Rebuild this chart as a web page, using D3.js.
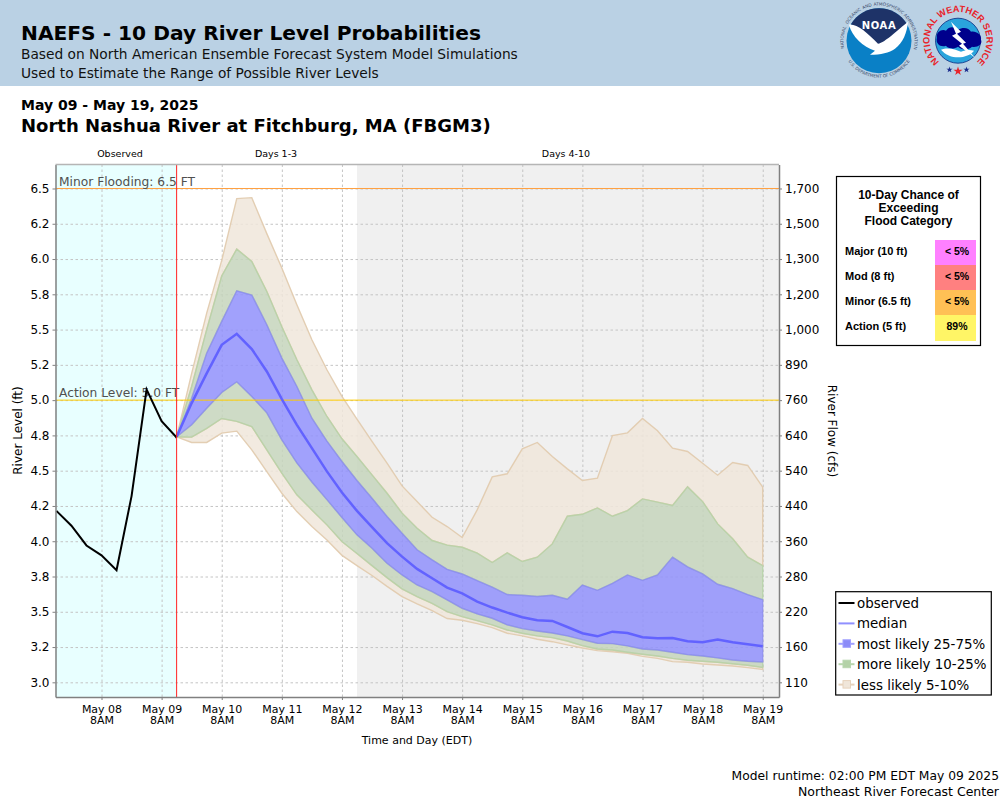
<!DOCTYPE html>
<html>
<head>
<meta charset="utf-8">
<title>NAEFS River Level Probabilities</title>
<script src="https://cdnjs.cloudflare.com/ajax/libs/d3/7.8.5/d3.min.js"></script>
<style>
body { margin: 0; background: #fff; }
svg { display: block; }
text { font-family: "DejaVu Sans", sans-serif; fill: #000; }
.tbl text { font-family: "Liberation Sans", Arial, sans-serif; font-weight: bold; }
</style>
</head>
<body>
<svg width="1000" height="800"></svg>
<script>
// Values, river level in feet
var observedLevel = [4.215, 4.11, 3.97, 3.90, 3.795, 4.32, 5.076, 4.85, 4.735];

// forecast traces, one value every 6 hours from May 09 2PM to May 19 8AM
var upper5 = [4.74, 5.19, 5.617, 5.99, 6.428, 6.435, 6.18, 5.936, 5.676, 5.428, 5.215, 5.026, 4.865, 4.707, 4.553, 4.392, 4.281, 4.170, 4.104, 4.026, 4.222, 4.456, 4.478, 4.655, 4.700, 4.600, 4.513, 4.430, 4.447, 4.749, 4.768, 4.870, 4.783, 4.660, 4.636, 4.553, 4.468, 4.558, 4.537, 4.383];
var upper10 = [4.74, 5.097, 5.5, 5.88, 6.07, 5.983, 5.77, 5.52, 5.286, 5.073, 4.884, 4.726, 4.600, 4.470, 4.340, 4.199, 4.092, 4.005, 3.972, 3.957, 3.915, 3.849, 3.917, 3.856, 3.887, 3.981, 4.177, 4.191, 4.236, 4.177, 4.217, 4.300, 4.277, 4.253, 4.385, 4.281, 4.123, 4.017, 3.887, 3.827];
var upper25 = [4.74, 5.014, 5.333, 5.558, 5.775, 5.745, 5.534, 5.298, 5.097, 4.872, 4.71, 4.565, 4.43, 4.305, 4.175, 4.057, 3.939, 3.868, 3.801, 3.768, 3.721, 3.674, 3.622, 3.617, 3.608, 3.617, 3.589, 3.690, 3.652, 3.702, 3.761, 3.723, 3.761, 3.887, 3.818, 3.768, 3.695, 3.664, 3.622, 3.586];
var median = [4.74, 4.979, 5.19, 5.392, 5.47, 5.362, 5.203, 5.007, 4.825, 4.66, 4.495, 4.345, 4.215, 4.10, 3.986, 3.891, 3.804, 3.738, 3.671, 3.631, 3.572, 3.530, 3.494, 3.461, 3.440, 3.435, 3.392, 3.348, 3.326, 3.359, 3.350, 3.319, 3.312, 3.314, 3.291, 3.284, 3.303, 3.284, 3.270, 3.255];
var lower25 = [4.74, 4.825, 4.943, 5.054, 5.13, 5.026, 4.91, 4.719, 4.555, 4.42, 4.295, 4.168, 4.045, 3.950, 3.844, 3.761, 3.690, 3.643, 3.584, 3.525, 3.485, 3.454, 3.407, 3.381, 3.364, 3.350, 3.329, 3.303, 3.277, 3.274, 3.258, 3.236, 3.229, 3.213, 3.196, 3.187, 3.173, 3.158, 3.149, 3.144];
var lower10 = [4.74, 4.738, 4.80, 4.87, 4.849, 4.813, 4.648, 4.482, 4.329, 4.222, 4.116, 3.998, 3.913, 3.827, 3.742, 3.662, 3.608, 3.560, 3.501, 3.466, 3.437, 3.407, 3.371, 3.348, 3.329, 3.317, 3.293, 3.260, 3.236, 3.229, 3.213, 3.199, 3.187, 3.170, 3.156, 3.149, 3.142, 3.132, 3.121, 3.106];
var lower5 = [4.74, 4.70, 4.70, 4.766, 4.78, 4.648, 4.494, 4.34, 4.21, 4.104, 4.009, 3.90, 3.827, 3.757, 3.68, 3.608, 3.556, 3.508, 3.452, 3.440, 3.416, 3.388, 3.348, 3.329, 3.305, 3.288, 3.265, 3.243, 3.225, 3.217, 3.206, 3.184, 3.170, 3.147, 3.142, 3.130, 3.123, 3.116, 3.104, 3.092];

// axes
var levelTicks = [6.5, 6.25, 6, 5.75, 5.5, 5.25, 5, 4.75, 4.5, 4.25, 4, 3.75, 3.5, 3.25, 3];
var levelLabels = ["6.5", "6.2", "6.0", "5.8", "5.5", "5.2", "5.0", "4.8", "4.5", "4.2", "4.0", "3.8", "3.5", "3.2", "3.0"];
var flowLabels = ["1,700", "1,500", "1,300", "1,200", "1,000", "890", "760", "640", "540", "440", "360", "280", "220", "160", "110"];
var dayTicks = [8, 9, 10, 11, 12, 13, 14, 15, 16, 17, 18, 19];

// flood table
var floodCats = ["Major (10 ft)", "Mod (8 ft)", "Minor (6.5 ft)", "Action (5 ft)"];
var floodChance = ["< 5%", "< 5%", "< 5%", "89%"];
var floodColors = ["#ff80ff", "#ff8080", "#ffc055", "#fff566"];

// legend
var legendNames = ["observed", "median", "most likely 25-75%", "more likely 10-25%", "less likely 5-10%"];
var legendLines = ["#000", "#9090ff", "#a0a0ff", "#b8d6ae", "#e6d2bc"];
var legendBoxes = [null, null, "#8c8cf8", "#b4d2a8", "#f0e6da"];

var svg = d3.select('svg');

var plot = {l: 55.5, r: 779, t: 164.5, b: 697};

// times are kept as UTC so the sandbox timezone does not shift them
function when(month, day, hour, min) {
    return new Date(Date.UTC(2025, month - 1, day, hour, min || 0));
}

var xScale = d3.scaleUtc()
    .domain([when(5, 7, 13, 38), when(5, 19, 14, 30)])
    .range([plot.l, plot.r]);
var yScale = d3.scaleLinear()
    .domain([2.896, 6.67])
    .range([plot.b, plot.t]);

var obsStart = when(5, 7, 14);
var fcstStart = when(5, 9, 14);
function obsTime(d, i) { return xScale(d3.utcHour.offset(obsStart, i * 6)); }
function fcstTime(d, i) { return xScale(d3.utcHour.offset(fcstStart, i * 6)); }

// header strip
svg.append('rect').attr('width', 1000).attr('height', 86).attr('fill', '#bad1e4');

function label(x, y, str, size, opts) {
    opts = opts || {};
    return svg.append('text')
        .attr('x', x).attr('y', y)
        .attr('font-size', size)
        .attr('font-weight', opts.bold ? 'bold' : null)
        .attr('text-anchor', opts.anchor || 'start')
        .style('fill', opts.fill || null)
        .attr('transform', opts.rotate ? 'rotate(' + opts.rotate + ' ' + x + ' ' + y + ')' : null)
        .text(str);
}

label(21, 40, 'NAEFS - 10 Day River Level Probabilities', 20.2, {bold: true});
label(21, 59, 'Based on North American Ensemble Forecast System Model Simulations', 13.75, {fill: '#111'});
label(21, 78, 'Used to Estimate the Range of Possible River Levels', 13.75, {fill: '#111'});
label(21, 110, 'May 09 - May 19, 2025', 14, {bold: true});
label(21, 132, 'North Nashua River at Fitchburg, MA (FBGM3)', 18.05, {bold: true});

label(120, 157, 'Observed', 9.5, {anchor: 'middle'});
label(276, 157, 'Days 1-3', 9.5, {anchor: 'middle'});
label(566, 157, 'Days 4-10', 9.5, {anchor: 'middle'});

// shaded periods
svg.append('rect')
    .attr('x', plot.l).attr('y', plot.t)
    .attr('width', xScale(fcstStart) - plot.l).attr('height', plot.b - plot.t)
    .attr('fill', '#e8ffff');
svg.append('rect')
    .attr('x', xScale(when(5, 12, 14))).attr('y', plot.t)
    .attr('width', plot.r - xScale(when(5, 12, 14))).attr('height', plot.b - plot.t)
    .attr('fill', '#f0f0f0');

// grid
var dayDates = dayTicks.map(function(d) { return when(5, d, 8); });

var gridY = svg.append('g')
    .attr('transform', 'translate(' + plot.l + ',0)')
    .call(d3.axisLeft(yScale).tickValues(levelTicks).tickSize(plot.l - plot.r).tickFormat(''));
var gridX = svg.append('g')
    .attr('transform', 'translate(0,' + plot.b + ')')
    .call(d3.axisBottom(xScale).tickValues(dayDates).tickSize(plot.t - plot.b).tickFormat(''));
[gridY, gridX].forEach(function(g) {
    g.select('.domain').remove();
    g.selectAll('line').attr('stroke', '#c4c4c4').attr('stroke-dasharray', '2.5,2.5');
});

// probability bands, from the outside in
var bands = [
    {top: upper5, bot: upper10, fill: 'rgba(240,230,218,0.85)', edge: 'rgba(225,203,175,0.95)'},
    {top: lower10, bot: lower5, fill: 'rgba(240,230,218,0.85)', edge: 'rgba(225,203,175,0.95)'},
    {top: upper10, bot: upper25, fill: 'rgba(197,213,188,0.85)', edge: 'rgba(180,210,165,0.8)'},
    {top: lower25, bot: lower10, fill: 'rgba(197,213,188,0.85)', edge: 'rgba(180,210,165,0.8)'},
    {top: upper25, bot: lower25, fill: 'rgba(145,145,252,0.85)', edge: 'rgba(135,135,240,0.7)'}
];

bands.forEach(function(b) {
    var area = d3.area()
        .x(fcstTime)
        .y0(function(d, i) { return yScale(b.bot[i]); })
        .y1(function(d) { return yScale(d); });
    svg.append('path')
        .attr('d', area(b.top))
        .attr('fill', b.fill)
        .attr('stroke', b.edge)
        .attr('stroke-width', 1.4);
});

// flood levels
svg.append('line')
    .attr('x1', plot.l).attr('x2', plot.r)
    .attr('y1', yScale(6.5)).attr('y2', yScale(6.5))
    .attr('stroke', '#ffa040');
svg.append('line')
    .attr('x1', plot.l).attr('x2', plot.r)
    .attr('y1', yScale(5)).attr('y2', yScale(5))
    .attr('stroke', '#ffcc00');
label(59, 186, 'Minor Flooding: 6.5 FT', 12.25, {fill: '#505050'});
label(59, 397, 'Action Level: 5.0 FT', 12.25, {fill: '#505050'});

// median and observed
var medianLine = d3.line().x(fcstTime).y(function(d) { return yScale(d); });
svg.append('path')
    .attr('d', medianLine(median))
    .attr('fill', 'none').attr('stroke', '#6262ff').attr('stroke-width', 2.5);

var obsLine = d3.line().x(obsTime).y(function(d) { return yScale(d); });
svg.append('path')
    .attr('d', obsLine(observedLevel))
    .attr('fill', 'none').attr('stroke', '#000').attr('stroke-width', 2);

// now line
svg.append('line')
    .attr('x1', xScale(fcstStart)).attr('x2', xScale(fcstStart))
    .attr('y1', plot.t).attr('y2', plot.b)
    .attr('stroke', '#f22');

// axes
var leftAxis = d3.axisLeft(yScale).tickValues(levelTicks).tickSizeInner(3).tickSizeOuter(0).tickPadding(3)
    .tickFormat(function(d, i) { return levelLabels[i]; });
var rightAxis = d3.axisRight(yScale).tickValues(levelTicks).tickSizeInner(3).tickSizeOuter(0).tickPadding(3)
    .tickFormat(function(d, i) { return flowLabels[i]; });
var bottomAxis = d3.axisBottom(xScale).tickValues(dayDates).tickSizeInner(3).tickSizeOuter(0).tickPadding(5)
    .tickFormat(d3.utcFormat('%b %d'));

var leftG = svg.append('g').attr('transform', 'translate(' + plot.l + ',0)').call(leftAxis);
var rightG = svg.append('g').attr('transform', 'translate(' + plot.r + ',0)').call(rightAxis);
var bottomG = svg.append('g').attr('transform', 'translate(0,' + plot.b + ')').call(bottomAxis);

[leftG, rightG, bottomG].forEach(function(g) {
    g.select('.domain').attr('stroke', '#808080').attr('stroke-width', 1.5);
    g.selectAll('.tick line').attr('stroke', '#808080');
    g.selectAll('.tick text').attr('fill', '#000').style('font-family', '"DejaVu Sans", sans-serif');
});
leftG.selectAll('.tick text').attr('font-size', 12);
rightG.selectAll('.tick text').attr('font-size', 12);
bottomG.selectAll('.tick text').attr('font-size', 11);
bottomG.selectAll('.tick').append('text')
    .attr('y', 19).attr('dy', '0.71em')
    .attr('text-anchor', 'middle')
    .attr('font-size', 11)
    .attr('fill', '#000')
    .style('font-family', '"DejaVu Sans", sans-serif')
    .text('8AM');

svg.append('line')
    .attr('x1', plot.l).attr('x2', plot.r)
    .attr('y1', plot.t).attr('y2', plot.t)
    .attr('stroke', '#b5b5b5').attr('stroke-width', 1.5);

label(22, 430.5, 'River Level (ft)', 12, {anchor: 'middle', rotate: -90});
label(828, 431, 'River Flow (cfs)', 12, {anchor: 'middle', rotate: 90});
label(417, 744, 'Time and Day (EDT)', 11, {anchor: 'middle'});

// flood chance table
var tbl = svg.append('g').attr('class', 'tbl');
tbl.append('rect')
    .attr('x', 836.5).attr('y', 176.5).attr('width', 144).attr('height', 169)
    .attr('fill', '#fff').attr('stroke', '#000').attr('stroke-width', 1.2);
['10-Day Chance of', 'Exceeding', 'Flood Category'].forEach(function(s, i) {
    tbl.append('text').attr('x', 908.5).attr('y', 199 + i * 13)
        .attr('text-anchor', 'middle').attr('font-size', 12).text(s);
});
floodCats.forEach(function(s, i) {
    var y = 240 + i * 25;
    tbl.append('rect').attr('x', 935).attr('y', y).attr('width', 41).attr('height', i == 3 ? 26 : 25)
        .attr('fill', floodColors[i]);
    tbl.append('text').attr('x', 845).attr('y', y + 15).attr('font-size', 11).text(s);
    tbl.append('text').attr('x', 957).attr('y', y + 15).attr('text-anchor', 'middle')
        .attr('font-size', 10.5).text(floodChance[i]);
});

// legend
var leg = svg.append('g');
leg.append('rect')
    .attr('x', 835.7).attr('y', 591.7).attr('width', 155.6).attr('height', 103.3)
    .attr('fill', '#fff').attr('stroke', '#000').attr('stroke-width', 1.2);
legendNames.forEach(function(s, i) {
    var y = 603 + i * 20.4;
    leg.append('line').attr('x1', 838.5).attr('x2', 854.5).attr('y1', y).attr('y2', y)
        .attr('stroke', legendLines[i]).attr('stroke-width', 2);
    if (legendBoxes[i]) {
        leg.append('rect').attr('x', 843).attr('y', y - 4).attr('width', 7.5).attr('height', 7.5)
            .attr('fill', legendBoxes[i]).attr('stroke', legendLines[i]);
    }
    leg.append('text').attr('x', 857).attr('y', y + 5).attr('font-size', 13.4).text(s);
});

// footer
label(999, 780, 'Model runtime: 02:00 PM EDT May 09 2025', 12.3, {anchor: 'end'});
label(999, 796, 'Northeast River Forecast Center', 12.5, {anchor: 'end'});

// NOAA logo
var noaa = svg.append('g').attr('transform', 'translate(879,40.7)');
noaa.append('circle').attr('r', 32.5).attr('fill', '#0a80c6');
noaa.append('path')
    .attr('d', 'M-28,-16.5 A32.5,32.5 0 0 1 28,-16.5 L0,6 Z')
    .attr('fill', '#1e3368');
noaa.append('path')
    .attr('d', 'M-30,-16 C-22,-17 -12,-8 -1,3 C6,2 20,-12 29,-19 C28,-8 24,2 16,8 C10,12 2,14 -9,14 L-4,10 C-16,6 -27,-4 -30,-16 Z')
    .attr('fill', '#fff');
noaa.append('text').attr('text-anchor', 'middle').attr('y', -11.5)
    .attr('font-size', 10).attr('font-weight', 'bold').attr('letter-spacing', 0.6).style('fill', '#fff').text('NOAA');
noaa.append('path').attr('id', 'noaaTop').attr('d', 'M-33.5,12 A35.5,35.5 0 1 1 33.5,12').attr('fill', 'none');
noaa.append('path').attr('id', 'noaaBot').attr('d', 'M-35,12 A37,37 0 0 0 35,12').attr('fill', 'none');

// ring words sit apart so they stay clear of the NOAA label in the middle
var noaaRingWords = ["NATIONAL", "OCEANIC", "AND", "ATMOSPHERIC", "ADMINISTRATION"];
var noaaRingStops = ["11.3%", "29%", "41.2%", "57.5%", "83.7%"];
noaaRingWords.forEach(function(s, i) {
    noaa.append('text').attr('font-size', 4.3).style('fill', '#3a4a6a')
        .append('textPath').attr('href', '#noaaTop').attr('startOffset', noaaRingStops[i]).attr('text-anchor', 'middle')
        .text(s);
});
noaa.append('text').attr('font-size', 4.3).style('fill', '#3a4a6a')
    .append('textPath').attr('href', '#noaaBot').attr('startOffset', '50%').attr('text-anchor', 'middle')
    .text('U.S. DEPARTMENT OF COMMERCE');

// NWS logo
var nws = svg.append('g').attr('transform', 'translate(958,40.7)');
nws.append('circle').attr('r', 22.5).attr('fill', '#2aa4dc').attr('stroke', '#0a2a80').attr('stroke-width', 0.8);
nws.append('path')
    .attr('d', 'M-21,-3 C-22,-9 -16,-12 -12,-10 C-9,-15 -3,-14 0,-11 C5,-14 11,-13 13,-9 C18,-10 24,-6 23,-1 C25,4 19,7 14,6 C10,10 3,9 0,6 C-4,9 -10,8 -12,5 C-17,7 -23,3 -21,-3 Z')
    .attr('fill', '#00008c');
nws.append('path')
    .attr('d', 'M-17,9 C-10,6 -2,9 3,11 C8,9 12,9 16,10 C10,18 -8,20 -17,9 Z')
    .attr('fill', '#fff');
nws.append('path')
    .attr('d', 'M-7,-19 L3,-9 L-1,-7 L8,2 L5,3 L17,17 L1,5 L4,3 L-6,-5 L-2,-7 Z')
    .attr('fill', '#fff');
nws.append('path').attr('id', 'nwsText').attr('d', 'M-15,24 A28.5,28.5 0 1 1 15,24').attr('fill', 'none');
nws.append('text').attr('font-size', 9.2).attr('font-weight', 'bold').style('font-family', '"Liberation Sans", Arial, sans-serif').style('fill', '#e8232a')
    .append('textPath').attr('href', '#nwsText').attr('startOffset', '50%').attr('text-anchor', 'middle')
    .text('NATIONAL WEATHER SERVICE');
[[0, 30.5, 26, '#e8232a'], [-8.5, 29, 12, '#1a2a8c'], [8.5, 29, 12, '#1a2a8c']].forEach(function(s) {
    nws.append('path')
        .attr('transform', 'translate(' + s[0] + ',' + s[1] + ')')
        .attr('d', d3.symbol(d3.symbolStar, s[2])())
        .attr('fill', s[3]);
});
</script>
</body>
</html>
